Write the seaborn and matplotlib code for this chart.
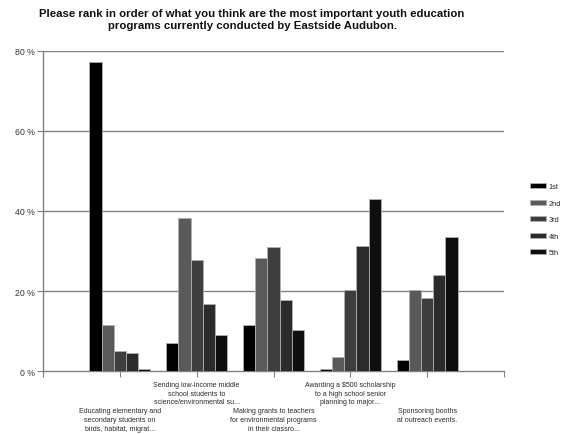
import matplotlib
matplotlib.use("Agg")
import matplotlib.pyplot as plt
import seaborn as sns
import pandas as pd

# Survey programs (x categories)
programs = [
    "Educating elementary and\nsecondary students on\nbirds, habitat, migrat...",
    "Sending low-income middle\nschool students to\nscience/environmental su...",
    "Making grants to teachers\nfor environmental programs\nin their classro...",
    "Awarding a \\$500 scholarship\nto a high school senior\nplanning to major...",
    "Sponsoring booths\nat outreach events.",
]
ranks = ["1st", "2nd", "3rd", "4th", "5th"]

# Percent of respondents giving each rank, per program
rank_1st = [77.2, 7.0, 11.6, 0.5, 2.7]
rank_2nd = [11.6, 38.2, 28.2, 3.4, 20.3]
rank_3rd = [5.1, 27.7, 31.1, 20.3, 18.3]
rank_4th = [4.5, 16.7, 17.7, 31.3, 24.0]
rank_5th = [0.5, 9.1, 10.2, 43.0, 33.6]

yticks = [0, 20, 40, 60, 80]
title = ("Please rank in order of what you think are the most important youth education\n"
         "programs currently conducted by Eastside Audubon.")

series = [rank_1st, rank_2nd, rank_3rd, rank_4th, rank_5th]
rows = []
for rk, vals in zip(ranks, series):
    for i, v in enumerate(vals):
        rows.append({"program": i, "rank": rk, "pct": v})
df = pd.DataFrame(rows)

sns.set_theme(style="white")
plt.rcParams["font.family"] = ["Liberation Sans", "DejaVu Sans"]

colors = ["#000000", "#5a5a5a", "#3e3e3e", "#2b2b2b", "#0e0e0e"]

fig = plt.figure(figsize=(5.64, 4.35), dpi=100)
ax = fig.add_axes([43 / 564, 1 - 372 / 435, (504 - 43) / 564, (372 - 52) / 435])

sns.barplot(data=df, x="program", y="pct", hue="rank", hue_order=ranks,
            palette=colors, width=0.79, dodge=True, gap=0,
            edgecolor="#b0b0b0", linewidth=0.6, saturation=1,
            native_scale=True, ax=ax, legend=True, zorder=3)

ax.set_xlim(-1, 5)
ax.set_ylim(0, 80)
ax.set_xlabel("")
ax.set_ylabel("")

# gridlines and axes
ax.set_yticks(yticks)
ax.set_yticklabels([f"{t} %" for t in yticks])
for t in yticks[1:]:
    ax.axhline(t, color="#808080", lw=1.0, zorder=1)
for side in ["top", "right"]:
    ax.spines[side].set_visible(False)
for side in ["left", "bottom"]:
    ax.spines[side].set_color("#808080")
    ax.spines[side].set_linewidth(1.0)
ax.set_xticks(range(-1, 6))
ax.set_xticklabels([])
ax.tick_params(axis="both", which="both", direction="out", length=4, width=0.8,
               color="#808080", left=True, bottom=True)
ax.tick_params(axis="y", labelsize=6.3, labelcolor="#333333", pad=2)

# staggered category labels
for i, name in enumerate(programs):
    y = -0.030 if i % 2 == 1 else -0.112
    ax.text(i, y, name, transform=ax.get_xaxis_transform(), ha="center", va="top",
            fontsize=5.0, color="#2a2a2a", linespacing=1.38)

# legend at the right edge
handles, labels = ax.get_legend_handles_labels()
ax.legend(handles, labels, loc="upper left", bbox_to_anchor=(530 / 564, 1 - 184 / 435),
          bbox_transform=fig.transFigure, frameon=False, fontsize=5.3,
          handlelength=2.2, handleheight=0.65, labelspacing=1.3, handletextpad=0.35,
          borderpad=0, borderaxespad=0)

fig.text(252 / 564, 1 - 20 / 435, title, ha="center", va="center",
         fontsize=8.2, fontweight="bold", color="#111111", linespacing=1.15)

fig.savefig("out.png", dpi=100)
